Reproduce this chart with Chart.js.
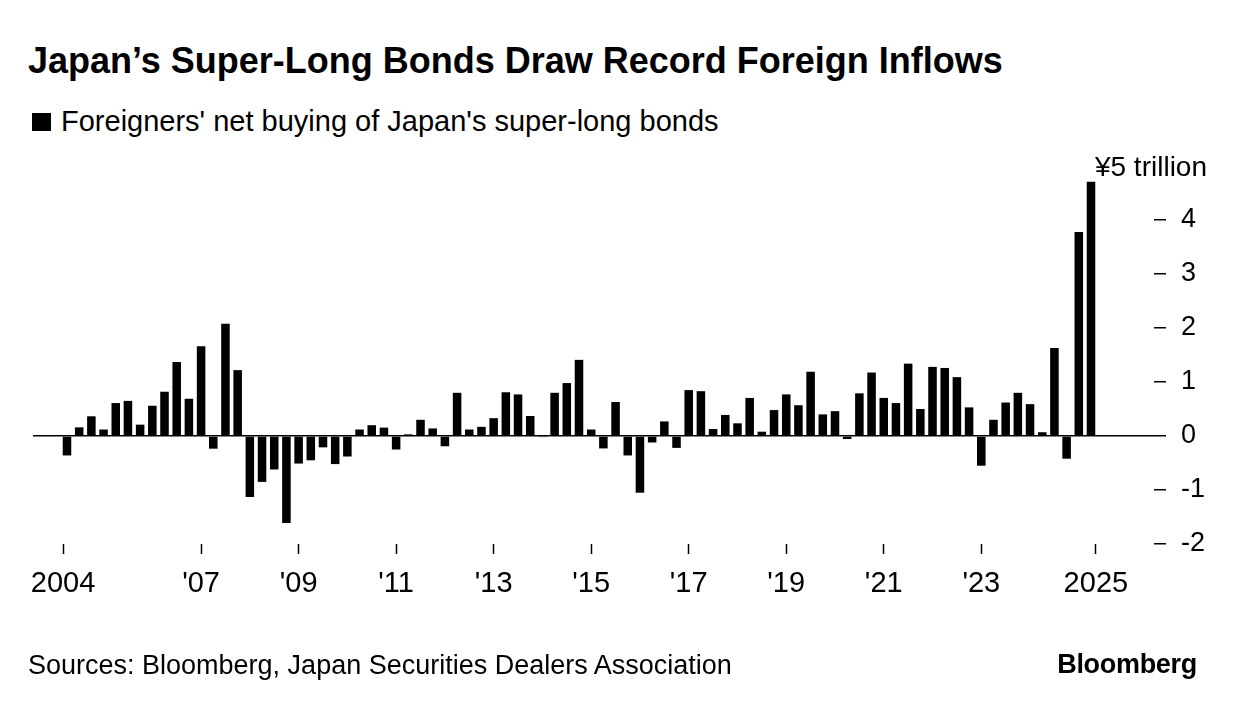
<!DOCTYPE html>
<html>
<head>
<meta charset="utf-8">
<script src="https://cdn.jsdelivr.net/npm/chart.js@4.4.1/dist/chart.umd.min.js"></script>
<style>
  body { margin: 0; width: 1236px; height: 710px; background: #fff; position: relative; overflow: hidden; font-family: "Liberation Sans", Arial, sans-serif; color: #000; }
  #chart { position: absolute; left: 0; top: 0; }
  .txt { position: absolute; white-space: nowrap; }
  #title { left: 28px; top: 43px; font-size: 36px; line-height: 36px; font-weight: bold; }
  #legend { left: 61px; top: 107px; font-size: 29px; line-height: 29px; }
  #swatch { position: absolute; left: 32px; top: 113px; width: 19px; height: 18px; background: #000; }
  #source { left: 28px; top: 652px; font-size: 27px; line-height: 27px; }
  #logo { right: 39px; top: 651px; font-size: 27px; line-height: 27px; font-weight: bold; letter-spacing: -0.3px; }
</style>
</head>
<body>
<div id="title" class="txt">Japan’s Super-Long Bonds Draw Record Foreign Inflows</div>
<div id="swatch"></div>
<div id="legend" class="txt">Foreigners' net buying of Japan's super-long bonds</div>
<canvas id="chart" width="1236" height="710"></canvas>
<div id="source" class="txt">Sources: Bloomberg, Japan Securities Dealers Association</div>
<div id="logo" class="txt">Bloomberg</div>
<script>
// quarterly data, 2004 Q2 .. 2025 Q2, ¥ trillion
var quarters = [
    '2004 Q2', '2004 Q3', '2004 Q4',
    '2005 Q1', '2005 Q2', '2005 Q3', '2005 Q4',
    '2006 Q1', '2006 Q2', '2006 Q3', '2006 Q4',
    '2007 Q1', '2007 Q2', '2007 Q3', '2007 Q4',
    '2008 Q1', '2008 Q2', '2008 Q3', '2008 Q4',
    '2009 Q1', '2009 Q2', '2009 Q3', '2009 Q4',
    '2010 Q1', '2010 Q2', '2010 Q3', '2010 Q4',
    '2011 Q1', '2011 Q2', '2011 Q3', '2011 Q4',
    '2012 Q1', '2012 Q2', '2012 Q3', '2012 Q4',
    '2013 Q1', '2013 Q2', '2013 Q3', '2013 Q4',
    '2014 Q1', '2014 Q2', '2014 Q3', '2014 Q4',
    '2015 Q1', '2015 Q2', '2015 Q3', '2015 Q4',
    '2016 Q1', '2016 Q2', '2016 Q3', '2016 Q4',
    '2017 Q1', '2017 Q2', '2017 Q3', '2017 Q4',
    '2018 Q1', '2018 Q2', '2018 Q3', '2018 Q4',
    '2019 Q1', '2019 Q2', '2019 Q3', '2019 Q4',
    '2020 Q1', '2020 Q2', '2020 Q3', '2020 Q4',
    '2021 Q1', '2021 Q2', '2021 Q3', '2021 Q4',
    '2022 Q1', '2022 Q2', '2022 Q3', '2022 Q4',
    '2023 Q1', '2023 Q2', '2023 Q3', '2023 Q4',
    '2024 Q1', '2024 Q2', '2024 Q3', '2024 Q4',
    '2025 Q1', '2025 Q2'
];

var netBuying = [
    -0.36, 0.16, 0.365,
    0.12, 0.61, 0.65, 0.21,
    0.56, 0.82, 1.37, 0.69,
    1.66, -0.235, 2.08, 1.22,
    -1.13, -0.85, -0.62, -1.61,
    -0.51, -0.45, -0.21, -0.52,
    -0.38, 0.12, 0.2, 0.155,
    -0.25, 0.03, 0.30, 0.14,
    -0.19, 0.80, 0.12, 0.17,
    0.33, 0.81, 0.77, 0.37,
    -0.02, 0.80, 0.98, 1.41,
    0.12, -0.23, 0.63, -0.36,
    -1.05, -0.12, 0.27, -0.22,
    0.85, 0.83, 0.13, 0.39,
    0.235, 0.705, 0.08, 0.48,
    0.77, 0.57, 1.19, 0.40,
    0.46, -0.055, 0.79, 1.175,
    0.705, 0.61, 1.34, 0.50,
    1.28, 1.26, 1.09, 0.53,
    -0.55, 0.30, 0.62, 0.80,
    0.59, 0.07, 1.63, -0.42,
    3.78, 4.71
];

var xTickValues = [2004.17, 2007, 2009, 2011, 2013, 2015, 2017, 2019, 2021, 2023, 2025.35];
var xTickLabels = ['2004', "'07", "'09", "'11", "'13", "'15", "'17", "'19", "'21", "'23", '2025'];
var yTopLabel = '¥5 trillion';

function quarterToYear(q) {
    var parts = q.split(' Q');
    return parseInt(parts[0]) + (parseInt(parts[1]) - 1) / 4;
}

var points = quarters.map(function (q, i) {
    return { x: quarterToYear(q), y: netBuying[i] };
});

var topLabelPlugin = {
    id: 'topLabel',
    afterDraw: function (chart) {
        var ctx = chart.ctx;
        var yScale = chart.scales.y;
        ctx.save();
        ctx.font = '28px "Liberation Sans", Arial, sans-serif';
        ctx.fillStyle = '#000';
        ctx.textAlign = 'right';
        ctx.textBaseline = 'middle';
        ctx.fillText(yTopLabel, yScale.left + 53, yScale.getPixelForValue(5) + 2);
        ctx.restore();
    }
};

var ctx = document.getElementById('chart').getContext('2d');
var chart = new Chart(ctx, {
    type: 'bar',
    data: {
        datasets: [{
            label: "Foreigners' net buying of Japan's super-long bonds",
            data: points,
            backgroundColor: '#000',
            borderWidth: 0,
            categoryPercentage: 1,
            barPercentage: 0.7
        }]
    },
    options: {
        responsive: false,
        animation: false,
        layout: { padding: { left: 33, top: 166, right: 12, bottom: 106 } },
        plugins: { legend: { display: false }, tooltip: { enabled: false } },
        scales: {
            x: {
                type: 'linear',
                offset: false,
                min: 2003.553,
                max: 2026.542,
                afterBuildTicks: function (scale) {
                    scale.ticks = xTickValues.map(function (v) { return { value: v }; });
                },
                afterFit: function (scale) {
                    scale.height = 60;
                    scale.paddingLeft = 0;
                    scale.paddingRight = 0;
                },
                ticks: {
                    autoSkip: false,
                    maxRotation: 0,
                    padding: 13,
                    color: '#000',
                    font: { family: '"Liberation Sans", Arial, sans-serif', size: 29 },
                    callback: function (v, i) { return xTickLabels[i]; }
                },
                grid: { offset: false, drawOnChartArea: false, drawTicks: true, tickLength: 10, tickWidth: 1.5, tickColor: '#000' },
                border: { display: false }
            },
            y: {
                position: 'right',
                min: -2,
                max: 5,
                afterFit: function (scale) {
                    scale.width = 70;
                    scale.paddingTop = 0;
                    scale.paddingBottom = 0;
                },
                ticks: {
                    stepSize: 1,
                    padding: 15,
                    color: '#000',
                    font: { family: '"Liberation Sans", Arial, sans-serif', size: 27 },
                    callback: function (v) { return v === 5 ? '' : String(v); }
                },
                grid: {
                    lineWidth: 1.5,
                    tickLength: 12,
                    color: function (c) { return c.tick && c.tick.value === 0 ? '#000' : 'rgba(0,0,0,0)'; },
                    tickColor: function (c) { return c.tick && c.tick.value === 5 ? 'rgba(0,0,0,0)' : '#000'; }
                },
                border: { display: false }
            }
        }
    },
    plugins: [topLabelPlugin]
});
</script>
</body>
</html>
